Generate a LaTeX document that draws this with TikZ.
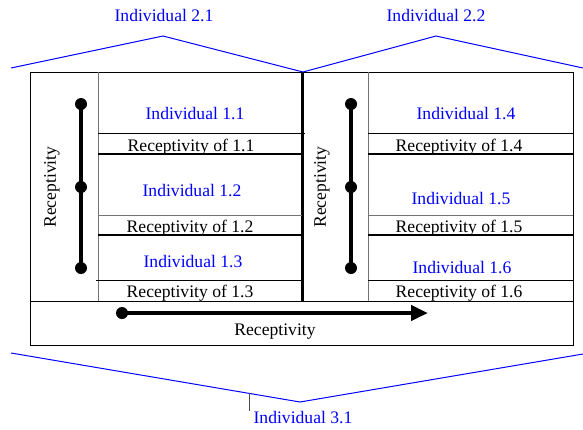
\documentclass[tikz,border=0pt]{standalone}
\usepackage{fontspec}
\setmainfont{Liberation Serif}
\usetikzlibrary{arrows.meta}
\begin{document}
\begin{tikzpicture}[x=1pt,y=-1pt,
  lbl/.style={font=\fontsize{17.6}{20}\selectfont, inner sep=0pt, anchor=base},
  blbl/.style={lbl, text={rgb,255:red,0;green,0;blue,255}},
  thinl/.style={line width=1pt, black},
  grayl/.style={line width=1pt, black!55},
  thickl/.style={line width=2.2pt, black},
  bluel/.style={line width=1pt, draw={rgb,255:red,0;green,0;blue,255}},
  bar/.style={line width=4.5pt, black},
  dot/.style={fill=black, draw=none}]
\useasboundingbox (0,0) rectangle (583,429);
% outer box
\draw[thinl] (30,72) rectangle (573,345);
\draw[thinl] (30,301) -- (573,301);
% column lines
\draw[grayl] (98,72) -- (98,301);
\draw[grayl] (368,72) -- (368,301);
\draw[line width=2.6pt] (302.5,72) -- (302.5,301);
% left rows
\draw[thinl] (98,133) -- (305,133);
\draw[thickl] (98,154) -- (302,154);
\draw[grayl] (98,215) -- (302,215);
\draw[thickl] (98,235) -- (302,235);
\draw[thinl] (96,280) -- (302,280);
% right rows
\draw[thinl] (368,133) -- (573,133);
\draw[thickl] (368,154) -- (573,154);
\draw[grayl] (368,215) -- (573,215);
\draw[thickl] (368,235) -- (573,235);
\draw[thinl] (368,280) -- (573,280);
% texts left
\node[blbl] (i11) at (195,119) {Individual 1.1};
\node[lbl]  (r11) at (191,151) {Receptivity of 1.1};
\node[blbl] (i12) at (192,196) {Individual 1.2};
\node[lbl]  (r12) at (190,232) {Receptivity of 1.2};
\node[blbl] (i13) at (193,267) {Individual 1.3};
\node[lbl]  (r13) at (190,297) {Receptivity of 1.3};
% texts right
\node[blbl] (i14) at (466,119) {Individual 1.4};
\node[lbl]  (r14) at (459,151) {Receptivity of 1.4};
\node[blbl] (i15) at (461,204) {Individual 1.5};
\node[lbl]  (r15) at (459,232) {Receptivity of 1.5};
\node[blbl] (i16) at (462,273) {Individual 1.6};
\node[lbl]  (r16) at (459,297) {Receptivity of 1.6};
% rotated receptivity
\node[lbl, anchor=center, rotate=90] (rl) at (52,187) {Receptivity};
\node[lbl, anchor=center, rotate=90] (rr) at (322,187) {Receptivity};
% dumbbells
\coordinate (a1) at (81,104); \coordinate (a2) at (81,187); \coordinate (a3) at (81,268);
\coordinate (b1) at (351,104); \coordinate (b2) at (351,187); \coordinate (b3) at (351,268);
\draw[bar] (a1) -- (a3);
\draw[bar] (b1) -- (b3);
\foreach \p in {a1,a2,a3,b1,b2,b3} \fill[dot] (\p) circle (6);
% bottom arrow
\coordinate (c1) at (122,313); \coordinate (c2) at (428,313);
\draw[bar, -{Triangle[length=17pt,width=15pt]}] (c1) -- (c2);
\fill[dot] (c1) circle (6);
\node[lbl] (rb) at (275,335) {Receptivity};
% blue top brackets
\coordinate (t0) at (11,68); \coordinate (t1) at (163,36); \coordinate (t2) at (303,72);
\coordinate (t3) at (436,36); \coordinate (t4) at (583,68);
\draw[bluel] (t0) -- (t1) -- (t2) -- (t3) -- (t4);
\node[blbl] (i21) at (164,21) {Individual 2.1};
\node[blbl] (i22) at (436,21) {Individual 2.2};
% blue bottom bracket
\coordinate (u0) at (11,353); \coordinate (u1) at (300,402); \coordinate (u2) at (583,354);
\draw[bluel] (u0) -- (u1) -- (u2);
\coordinate (k1) at (249,393.4); \coordinate (k2) at (249,411);
\draw[line width=0.8pt, black!70] (k1) -- (k2);
\node[blbl] (i31) at (303,423) {Individual 3.1};
\end{tikzpicture}
\end{document}
